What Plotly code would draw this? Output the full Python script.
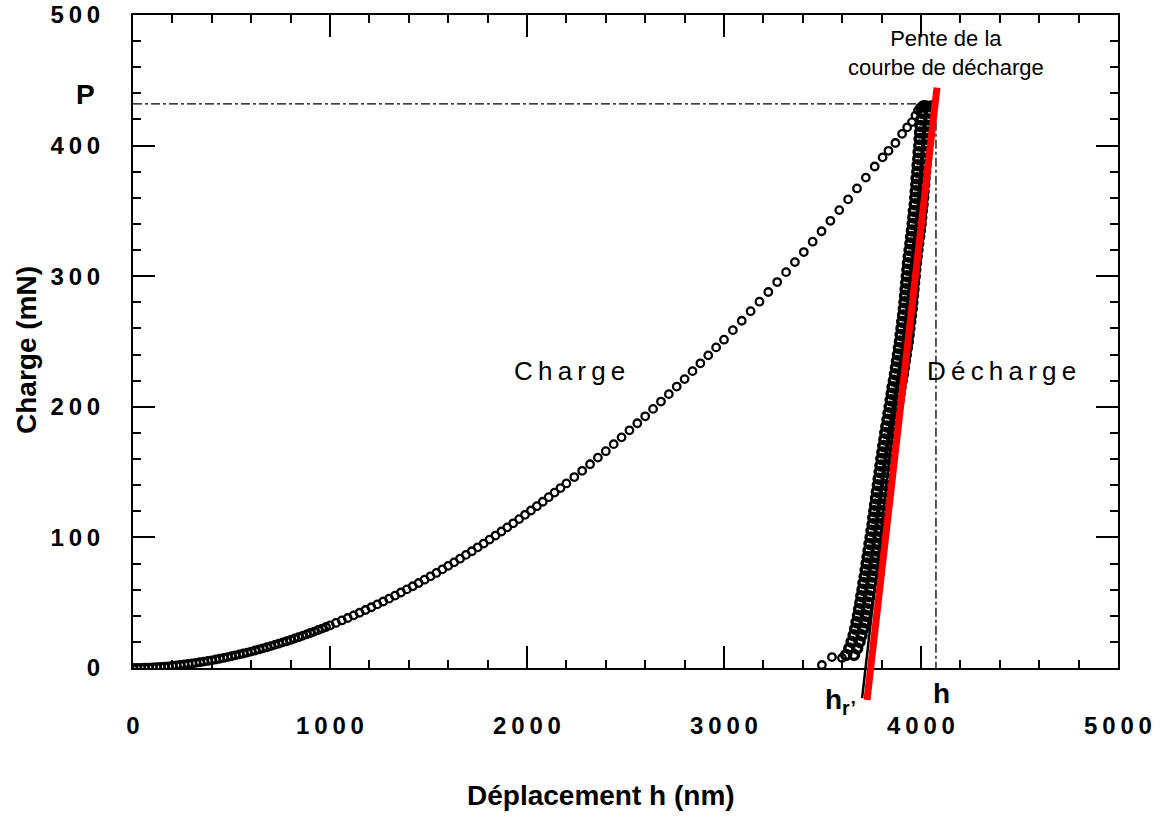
import plotly.graph_objects as go

# ---------------- data ----------------
load_x = [0, 20, 40, 60, 80, 100, 120, 140, 160, 180, 200, 220, 240, 260, 280, 300, 320, 340, 360, 380,
          400, 420, 440, 460, 480, 500, 520, 540, 560, 580, 600, 620, 640, 660, 680, 700, 720, 740, 760, 780,
          800, 820, 840, 860, 880, 900, 920, 940, 960, 980, 1000,
          1030, 1060, 1090, 1120, 1150, 1180, 1210, 1240, 1270, 1300, 1330, 1360, 1390, 1420, 1450, 1480, 1510,
          1540, 1570, 1600, 1630, 1660, 1690, 1720, 1750, 1780, 1810, 1840, 1870, 1900, 1930, 1960, 1990, 2020,
          2050, 2080, 2110, 2140, 2170, 2200,
          2240, 2280, 2320, 2360, 2400, 2440, 2480, 2520, 2560, 2600, 2640, 2680, 2720, 2760, 2800, 2840, 2880,
          2920, 2960, 3000,
          3045, 3090, 3135, 3180, 3225, 3270, 3315, 3360, 3405, 3450, 3495, 3540, 3585, 3630, 3675, 3720,
          3765, 3805, 3835, 3870, 3904, 3930, 3954, 3972, 3985, 3995, 4005, 4015, 4025, 4035]
load_y = [0.0, 0.0, 0.1, 0.2, 0.3, 0.5, 0.6, 0.8, 1.1, 1.3, 1.6, 2.0, 2.3, 2.7, 3.1, 3.5, 3.9, 4.4, 4.9, 5.4,
          5.9, 6.5, 7.1, 7.7, 8.3, 9.0, 9.7, 10.4, 11.1, 11.8, 12.6, 13.4, 14.2, 15.1, 15.9, 16.8, 17.7, 18.6,
          19.6, 20.5, 21.5, 22.6, 23.6, 24.6, 25.7, 26.8, 27.9, 29.1, 30.2, 31.4, 32.6,
          34.5, 36.4, 38.3, 40.3, 42.3, 44.4, 46.5, 48.7, 50.9, 53.1, 55.4, 57.8, 60.2, 62.6, 65.1, 67.6, 70.2,
          72.8, 75.5, 78.2, 80.9, 83.7, 86.6, 89.4, 92.4, 95.3, 98.3, 101.4, 104.5, 107.7, 110.8, 114.0, 117.3,
          120.6, 123.9, 127.3, 130.8, 134.3, 137.8, 141.3,
          146.2, 151.0, 156.0, 161.1, 166.0, 171.4, 176.6, 182.0, 187.4, 192.7, 198.4, 204.0, 209.7, 215.5,
          221.2, 227.3, 233.3, 239.4, 245.5, 251.4,
          258.7, 265.9, 273.2, 280.5, 287.9, 295.5, 303.1, 310.8, 318.5, 326.4, 334.4, 342.4, 350.6, 358.8,
          367.2, 375.5,
          384.0, 391.0, 396.0, 402.0, 409.0, 414.0, 418.0, 423.0, 427.0, 429.0, 430.0, 431.0, 431.0, 430.0]

unload_y = [430, 425, 420, 415, 410, 405, 400, 395, 390, 385, 380, 375, 370, 365, 360, 355, 350, 345, 340,
            335, 330, 325, 320, 315, 310, 305, 300, 295, 290, 285, 280, 275, 270, 265, 260, 255, 250, 245,
            240, 235, 230, 225, 220, 215, 210, 205, 200, 195, 190, 185, 180, 175, 170, 165, 160, 155, 150,
            145, 140, 135, 130, 125, 120, 115, 110, 105, 100, 95, 90, 85, 80, 75, 70, 65, 60, 55, 50, 45, 40,
            35, 30, 25, 20, 15, 10]
unload_x_outer = [4050, 4045, 4042, 4038, 4035, 4033, 4031, 4028, 4026, 4023, 4021, 4018, 4016, 4013, 4011,
                  4008, 4004, 4001, 3998, 3994, 3990, 3986, 3982, 3978, 3974, 3971, 3968, 3965, 3962, 3959,
                  3956, 3953, 3949, 3945, 3941, 3937, 3933, 3928, 3923, 3918, 3913, 3908, 3902, 3896, 3891,
                  3886, 3881, 3875, 3870, 3864, 3859, 3854, 3849, 3844, 3839, 3834, 3830, 3825, 3821, 3816,
                  3812, 3807, 3803, 3798, 3794, 3789, 3784, 3779, 3774, 3769, 3764, 3759, 3754, 3748, 3743,
                  3737, 3732, 3726, 3720, 3713, 3706, 3698, 3688, 3676, 3660]
unload_x_inner = [4012, 4006, 4002, 3998, 3995, 3993, 3991, 3988, 3986, 3983, 3981, 3978, 3976, 3973, 3971,
                  3968, 3964, 3961, 3958, 3954, 3950, 3946, 3942, 3938, 3934, 3931, 3928, 3925, 3922, 3919,
                  3916, 3913, 3909, 3905, 3901, 3897, 3893, 3888, 3883, 3878, 3873, 3868, 3862, 3856, 3851,
                  3846, 3841, 3835, 3830, 3824, 3819, 3814, 3809, 3804, 3799, 3794, 3790, 3785, 3781, 3776,
                  3772, 3767, 3763, 3758, 3754, 3749, 3744, 3739, 3734, 3729, 3724, 3719, 3714, 3708, 3703,
                  3697, 3692, 3686, 3680, 3673, 3666, 3658, 3648, 3636, 3620]
tail_x = [3497, 3548, 3599]
tail_y = [2.3, 8.4, 7.7]

# tangent (slope of the unloading curve) drawn on the figure
slope_red_x = [3726, 4081]
slope_red_y = [-24.5, 444.4]
slope_black_x = [3701, 4000]
slope_black_y = [-23, 372]

P_max = 432
h_max = 4076

x_tick_vals = [0, 1000, 2000, 3000, 4000, 5000]
x_tick_labels = ["0", "1000", "2000", "3000", "4000", "5000"]
y_tick_vals = [0, 100, 200, 300, 400, 500]
y_tick_labels = ["0", "100", "200", "300", "400", "500"]
Y_MAX = 500
X_MAX = 5000

# ---------------- figure ----------------
BLACK = "#000000"
fig = go.Figure()

load_marker = dict(symbol="circle-open", size=7.5, color=BLACK, line=dict(width=2.3, color=BLACK))
unload_marker = dict(symbol="circle-open", size=9, color=BLACK, line=dict(width=3.5, color=BLACK))

fig.add_trace(go.Scatter(x=[0, h_max], y=[P_max, P_max], mode="lines",
                         line=dict(color=BLACK, width=1.3, dash="dashdot"), hoverinfo="skip"))
fig.add_trace(go.Scatter(x=[h_max, h_max], y=[P_max, 0], mode="lines",
                         line=dict(color=BLACK, width=1.3, dash="dashdot"), hoverinfo="skip"))

fig.add_trace(go.Scatter(x=load_x, y=load_y, mode="markers", marker=load_marker))
fig.add_trace(go.Scatter(x=unload_x_inner, y=unload_y, mode="markers", marker=unload_marker))
fig.add_trace(go.Scatter(x=unload_x_outer, y=unload_y, mode="markers", marker=unload_marker))
fig.add_trace(go.Scatter(x=tail_x, y=tail_y, mode="markers", marker=load_marker))

# slope lines: drawn as shapes (x in data, y as fraction of the y axis) so they can run below the axis
shapes = [
    dict(type="line", xref="x", yref="paper", layer="above",
         x0=slope_black_x[0], x1=slope_black_x[1],
         y0=slope_black_y[0] / Y_MAX, y1=slope_black_y[1] / Y_MAX,
         line=dict(color=BLACK, width=2.5)),
    dict(type="line", xref="x", yref="paper", layer="above",
         x0=slope_red_x[0], x1=slope_red_x[1],
         y0=slope_red_y[0] / Y_MAX, y1=slope_red_y[1] / Y_MAX,
         line=dict(color="#ff0000", width=7)),
]

tick_font = dict(family="Liberation Sans, Arial", size=24, color=BLACK, weight="bold")
axis_common = dict(showgrid=False, zeroline=False, showline=True, linecolor=BLACK, linewidth=2,
                   ticks="inside", ticklen=22, tickwidth=1.5, tickcolor=BLACK, mirror="allticks",
                   tickfont=tick_font, automargin=False)
TS = "\u2009"
fig.update_xaxes(range=[0, X_MAX], tickmode="array", tickvals=x_tick_vals,
                 ticktext=[TS.join(s) for s in x_tick_labels], ticklabelstandoff=35,
                 minor=dict(dtick=200, ticks="inside", ticklen=8, tickwidth=1.5, tickcolor=BLACK),
                 **axis_common)
fig.update_yaxes(range=[0, Y_MAX], tickmode="array", tickvals=y_tick_vals,
                 ticktext=[TS.join(s) for s in y_tick_labels], ticklabelstandoff=26,
                 minor=dict(dtick=20, ticks="inside", ticklen=8, tickwidth=1.5, tickcolor=BLACK),
                 **axis_common)

ann_font = dict(family="Liberation Sans, Arial", color=BLACK)
annotations = [
    dict(x=2218, y=227.6, xref="x", yref="y", text=TS.join("Charge"), showarrow=False,
         xanchor="center", yanchor="middle", font=dict(size=26, **ann_font)),
    dict(x=4411, y=227.6, xref="x", yref="y", text=TS.join("Décharge"), showarrow=False,
         xanchor="center", yanchor="middle", font=dict(size=26, **ann_font)),
    dict(x=4127, y=471, xref="x", yref="y", text="Pente de la<br>courbe de décharge", showarrow=False,
         xanchor="center", yanchor="middle", font=dict(size=22, **ann_font)),
    dict(x=-0.0487, y=439, xref="paper", yref="y", text="<b>P</b>", showarrow=False,
         xanchor="center", yanchor="middle", font=dict(size=28, **ann_font)),
    dict(x=4102, y=-0.039, xref="x", yref="paper", text="<b>h</b>", showarrow=False,
         xanchor="center", yanchor="middle", font=dict(size=28, **ann_font)),
    dict(x=3589, y=-0.052, xref="x", yref="paper", text="<b>h<sub>r’</sub></b>", showarrow=False,
         xanchor="center", yanchor="middle", font=dict(size=28, **ann_font)),
    dict(x=-0.1076, y=0.487, xref="paper", yref="paper", text="<b>Charge (mN)</b>", textangle=-90,
         showarrow=False, xanchor="center", yanchor="middle", font=dict(size=28, **ann_font)),
    dict(x=0.475, y=-0.196, xref="paper", yref="paper", text="<b>Déplacement h (nm)</b>",
         showarrow=False, xanchor="center", yanchor="middle", font=dict(size=28, **ann_font)),
]

fig.update_layout(width=1165, height=828, margin=dict(l=133, r=47, t=15, b=160, autoexpand=False),
                  paper_bgcolor="white", plot_bgcolor="white", showlegend=False,
                  annotations=annotations, shapes=shapes)

fig.write_html("out.html")
